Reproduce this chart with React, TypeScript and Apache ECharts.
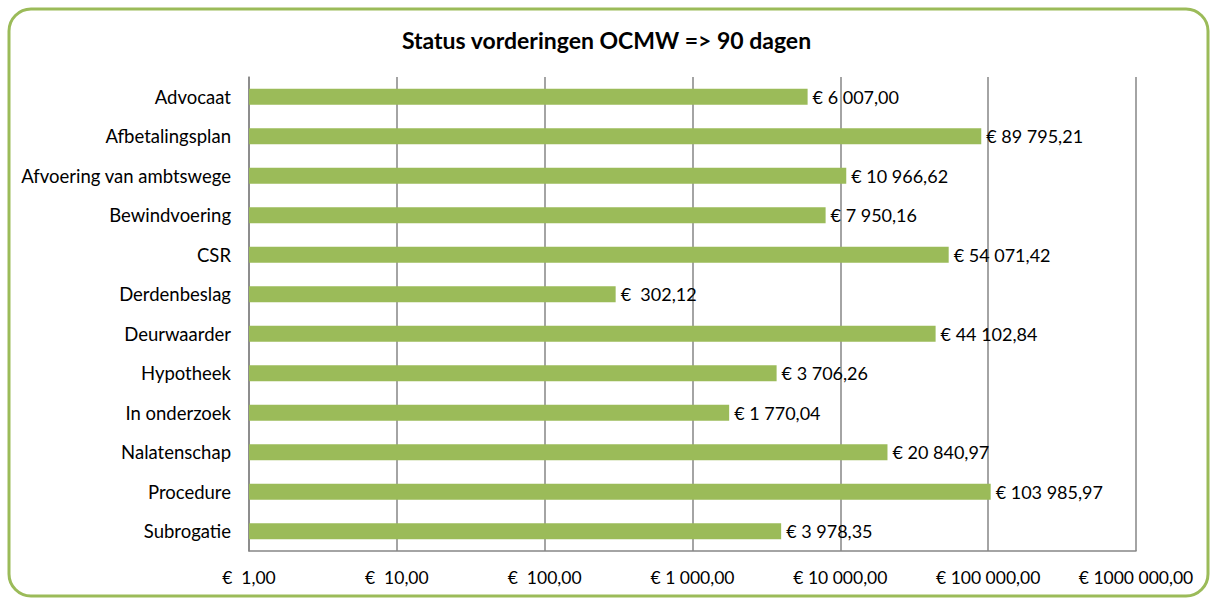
import React, { useEffect, useRef } from "react";
import * as echarts from "echarts";

const categories = [
  "Advocaat",
  "Afbetalingsplan",
  "Afvoering van ambtswege",
  "Bewindvoering",
  "CSR",
  "Derdenbeslag",
  "Deurwaarder",
  "Hypotheek",
  "In onderzoek",
  "Nalatenschap",
  "Procedure",
  "Subrogatie",
];
const values = [
  6007.0, 89795.21, 10966.62, 7950.16, 54071.42, 302.12, 44102.84, 3706.26,
  1770.04, 20840.97, 103985.97, 3978.35,
];
const tickValues = [1, 10, 100, 1000, 10000, 100000, 1000000];
const tickLabels = [
  "€  1,00",
  "€  10,00",
  "€  100,00",
  "€ 1 000,00",
  "€ 10 000,00",
  "€ 100 000,00",
  "€ 1000 000,00",
];
const title = "Status vorderingen OCMW => 90 dagen";

function formatEuro(v: number): string {
  const [intPart, dec] = v.toFixed(2).split(".");
  const grouped = intPart.replace(/\B(?=(\d{3})+(?!\d))/g, " ");
  const pad = intPart.length <= 3 ? "  " : " ";
  return "€" + pad + grouped + "," + dec;
}

export default function App() {
  const ref = useRef<HTMLDivElement>(null);
  useEffect(() => {
    if (!ref.current) return;
    const chart = echarts.init(ref.current, null, { renderer: "svg" });
    const font = "Lato, 'Open Sans', sans-serif";
    chart.setOption({
      animation: false,
      backgroundColor: "#ffffff",
      textStyle: { fontFamily: font },
      title: {
        text: title,
        left: "center",
        top: 23,
        textStyle: { fontFamily: font, fontSize: 23, fontWeight: "bold", color: "#000" },
      },
      graphic: [
        {
          type: "rect",
          shape: { x: 9, y: 9, width: 1199, height: 587, r: 22 },
          style: { fill: "none", stroke: "#9BBB59", lineWidth: 3 },
          z: 100,
        },
      ],
      grid: { left: 249, right: 77, top: 77, bottom: 48 },
      xAxis: {
        type: "log",
        logBase: 10,
        min: 1,
        max: 1000000,
        axisLine: { show: true, lineStyle: { color: "#868686", width: 1.5 } },
        axisTick: { show: false },
        splitLine: { show: true, lineStyle: { color: "#868686", width: 1.5 } },
        axisLabel: {
          margin: 17,
          fontSize: 17.5,
          color: "#000",
          fontFamily: font,
          formatter: (v: number) => {
            const i = tickValues.findIndex((t) => Math.abs(Math.log10(t) - Math.log10(v)) < 1e-6);
            return i >= 0 ? tickLabels[i] : "";
          },
        },
      },
      yAxis: {
        type: "category",
        inverse: true,
        data: categories,
        axisLine: { show: true, lineStyle: { color: "#868686", width: 1.5 } },
        axisTick: { show: false },
        axisLabel: { margin: 18, fontSize: 18.5, color: "#000", fontFamily: font },
      },
      series: [
        {
          type: "bar",
          data: values,
          barWidth: 16,
          itemStyle: { color: "#9BBB59" },
          label: {
            show: true,
            position: "right",
            distance: 5,
            fontSize: 18,
            color: "#000",
            fontFamily: font,
            formatter: (p: any) => formatEuro(p.value),
          },
        },
      ],
    });
    return () => chart.dispose();
  }, []);
  return (
    <div
      ref={ref}
      style={{ position: "fixed", left: 0, top: 0, width: 1213, height: 599 }}
    />
  );
}
